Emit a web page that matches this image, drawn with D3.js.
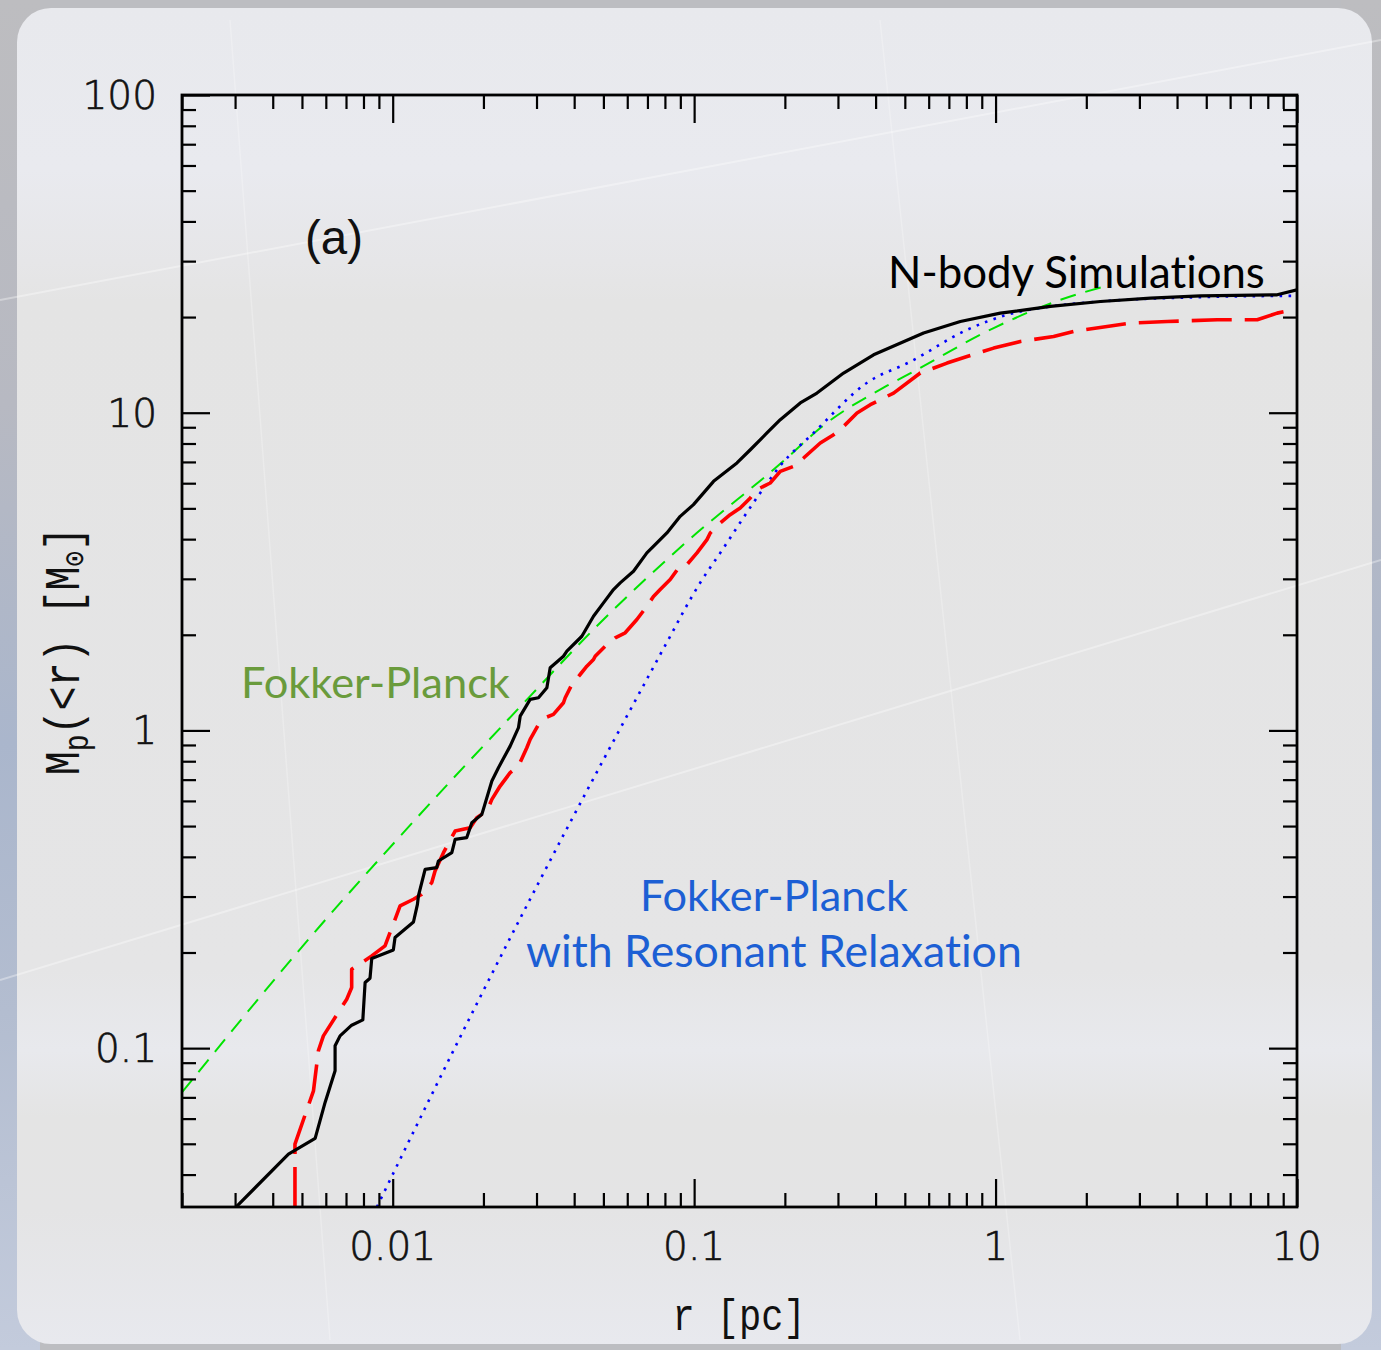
<!DOCTYPE html>
<html><head><meta charset="utf-8">
<script src="https://cdn.jsdelivr.net/npm/d3@7"></script>
<style>html,body{margin:0;padding:0;background:#bcbdc1;} svg{display:block;} text{font-variant-ligatures:none;font-kerning:normal;}</style>
</head><body>
<svg id="chart" width="1381" height="1350"></svg>
<script>
// ---------- data ----------
const nbodyR = [0.00302,0.00451,0.00553,0.00597,0.00644,0.00644,0.00669,0.00731,0.00796,0.00810,0.00841,0.00852,0.01005,0.01018,0.01172,0.01208,0.01217,0.01281,0.01400,0.01418,0.01571,0.01611,0.01761,0.01830,0.01976,0.02133,0.02243,0.02453,0.02614,0.02648,0.02858,0.03045,0.03247,0.03330,0.03686,0.03783,0.04242,0.04636,0.05003,0.05401,0.05685,0.06293,0.06970,0.08121,0.08991,0.0995,0.1160,0.1387,0.1536,0.1744,0.1931,0.2250,0.2556,0.3132,0.3939,0.5771,0.7641,1.037,1.520,2.228,3.265,4.782,8.594,10];
const nbodyM = [0.0316,0.0464,0.0520,0.0676,0.0849,0.1017,0.1093,0.1181,0.1227,0.1609,0.1660,0.1914,0.2038,0.2229,0.2495,0.2836,0.3013,0.3655,0.3700,0.3882,0.4124,0.4542,0.4599,0.5125,0.5442,0.6929,0.7633,0.8925,1.020,1.109,1.252,1.267,1.362,1.575,1.712,1.776,1.979,2.288,2.521,2.776,2.914,3.170,3.621,4.184,4.719,5.136,6.081,6.947,7.646,8.635,9.506,10.73,11.53,13.33,15.22,17.81,19.37,20.58,21.60,22.39,22.95,23.33,23.50,24.37];

const redR = [0.00474,0.00474,0.00546,0.00567,0.00589,0.00704,0.00731,0.00731,0.00852,0.00943,0.01058,0.01172,0.01249,0.01348,0.01382,0.01474,0.01611,0.01807,0.01901,0.02053,0.02133,0.02272,0.02453,0.02614,0.02786,0.02858,0.03045,0.03205,0.03414,0.03686,0.03735,0.03930,0.04187,0.04407,0.04636,0.04696,0.05135,0.05471,0.05906,0.06457,0.06970,0.07330,0.07716,0.08329,0.08878,0.09465,0.1022,0.1103,0.1131,0.1221,0.1317,0.1422,0.1536,0.1616,0.1788,0.1931,0.2138,0.2307,0.2621,0.2902,0.3132,0.3470,0.3841,0.4589,0.5627,0.6902,0.8043,0.9856,1.209,1.558,1.816,2.344,2.802,3.709,5.434,7.379,8.594,10];
const redM = [0.0316,0.0499,0.0734,0.0982,0.1093,0.1426,0.1552,0.1771,0.1951,0.2098,0.2802,0.2942,0.3050,0.3320,0.3610,0.4124,0.4823,0.4943,0.5314,0.5573,0.6067,0.6682,0.7362,0.7722,0.8823,0.9369,1.044,1.096,1.123,1.222,1.267,1.395,1.500,1.593,1.672,1.712,1.864,1.957,2.029,2.234,2.460,2.639,2.776,2.984,3.248,3.327,3.621,3.987,4.184,4.499,4.777,5.015,5.392,5.726,6.009,6.537,6.778,7.202,8.030,8.527,9.056,9.98,10.60,11.53,13.33,14.33,15.03,15.97,16.76,17.38,18.02,18.68,19.15,19.37,19.61,19.61,20.58,21.19];

const fpR = [0.002,0.00574,0.01085,0.02858,0.04636,0.09222,0.2032,0.2621,0.4364,0.5350,0.9856,1.641,2.404];
const fpM = [0.0726,0.2424,0.4768,1.282,2.078,3.846,7.202,8.952,12.16,13.49,18.47,22.66,25.27];

const rrR = [0.00886,0.01950,0.02931,0.08329,0.09705,0.1047,0.1221,0.1657,0.1931,0.2490,0.3747,0.5215,0.8043,1.092,1.520,2.228,4.782,10];
const rrM = [0.0316,0.1447,0.3087,1.979,2.582,2.914,3.621,5.591,6.813,8.635,12.43,14.47,18.24,20.33,21.60,22.39,23.11,23.33];

const xTickValues = [0.01,0.1,1,10];
const xTickLabels = ["0.01","0.1","1","10"];
const yTickValues = [0.1,1,10,100];
const yTickLabels = ["0.1","1","10","100"];

// ---------- layout ----------
const svg = d3.select('#chart');
const L=182, R=1297, T=95, B=1207;
const x = d3.scaleLog().domain([0.002,10]).range([L,R]);
const y = d3.scaleLog().domain([Math.pow(10,-1.5),100]).range([B,T]);

const defs = svg.append('defs');
const side = defs.append('linearGradient').attr('id','side').attr('x1',0).attr('x2',0).attr('y1',0).attr('y2',1);
[[0,'#bdbdc0'],[0.3,'#b7b9c2'],[0.55,'#aab6cc'],[0.75,'#b3bdd0'],[1,'#c3cbdc']].forEach(([o,c])=>side.append('stop').attr('offset',o).attr('stop-color',c));
const pan = defs.append('linearGradient').attr('id','pan').attr('x1',0).attr('x2',0).attr('y1',0).attr('y2',1);
[[0,'#e8e9ed'],[0.12,'#e9eaef'],[0.19,'#e6e6e8'],[0.22,'#e4e4e4'],[0.72,'#e5e5e6'],[0.78,'#e8e9ed'],[0.83,'#e4e4e4'],[0.9,'#e4e4e5'],[1,'#e8e9ee']].forEach(([o,c])=>pan.append('stop').attr('offset',o).attr('stop-color',c));
defs.append('clipPath').attr('id','plotclip').append('rect').attr('x',L).attr('y',T).attr('width',R-L).attr('height',B-T);

svg.append('rect').attr('width',1381).attr('height',1350).attr('fill','#bcbdc1');
svg.append('rect').attr('x',0).attr('y',0).attr('width',40).attr('height',1350).attr('fill','url(#side)');
svg.append('rect').attr('x',1341).attr('y',0).attr('width',40).attr('height',1350).attr('fill','url(#side)');
svg.append('rect').attr('x',17).attr('y',8).attr('width',1355).attr('height',1336).attr('rx',34).attr('fill','url(#pan)');

// faint decorative streaks
const streaks = svg.append('g').attr('stroke','#ffffff').attr('stroke-opacity',0.35).attr('fill','none');
streaks.append('line').attr('x1',0).attr('y1',300).attr('x2',1381).attr('y2',40).attr('stroke-width',2);
streaks.append('line').attr('x1',0).attr('y1',980).attr('x2',1381).attr('y2',560).attr('stroke-width',2);
streaks.append('line').attr('x1',230).attr('y1',20).attr('x2',330).attr('y2',1340).attr('stroke-width',1.5).attr('stroke-opacity',0.25);
streaks.append('line').attr('x1',880).attr('y1',20).attr('x2',1020).attr('y2',1340).attr('stroke-width',1.5).attr('stroke-opacity',0.25);

// ---------- curves ----------
const toPts = (rs,ms)=>d3.zip(rs,ms).map(([r,m])=>({r,m}));
const line = d3.line().x(d=>x(d.r)).y(d=>y(d.m));
const smooth = d3.line().x(d=>x(d.r)).y(d=>y(d.m)).curve(d3.curveMonotoneX);
const plot = svg.append('g').attr('clip-path','url(#plotclip)').attr('fill','none').attr('stroke-linejoin','round');

plot.append('path').attr('d',smooth(toPts(fpR,fpM))).attr('stroke','#00e400').attr('stroke-width',2).attr('stroke-dasharray','16,10');
plot.append('path').attr('d',smooth(toPts(rrR,rrM))).attr('stroke','#0000ff').attr('stroke-width',2.6).attr('stroke-dasharray','2.6,6.4');
plot.append('path').attr('d',line(toPts(redR,redM))).attr('stroke','#ff0000').attr('stroke-width',3.6).attr('stroke-dasharray','40,13');
plot.append('path').attr('d',line(toPts(nbodyR,nbodyM))).attr('stroke','#000000').attr('stroke-width',3.2);

// ---------- axes ----------
function minors(domain){const out=[];for(let e=-4;e<=2;e++){for(let k=2;k<=9;k++){const v=k*Math.pow(10,e);if(v>=domain[0]*0.999&&v<=domain[1]*1.001)out.push(v);}}return out;}
const xMinor = minors(x.domain());
const yMinor = minors(y.domain());
function drawAxis(gen, scale, vals, size, tr){
  const g = svg.append('g').attr('transform',tr).call(gen(scale).tickValues(vals).tickSize(-size).tickFormat(''));
  g.select('.domain').remove();
  g.selectAll('line').attr('stroke','#000').attr('stroke-width',2.2);
}
drawAxis(d3.axisBottom, x, xTickValues, 28, `translate(0,${B})`);
drawAxis(d3.axisBottom, x, xMinor, 14, `translate(0,${B})`);
drawAxis(d3.axisTop, x, xTickValues, 28, `translate(0,${T})`);
drawAxis(d3.axisTop, x, xMinor, 14, `translate(0,${T})`);
drawAxis(d3.axisLeft, y, yTickValues, 28, `translate(${L},0)`);
drawAxis(d3.axisLeft, y, yMinor, 14, `translate(${L},0)`);
drawAxis(d3.axisRight, y, yTickValues, 28, `translate(${R},0)`);
drawAxis(d3.axisRight, y, yMinor, 14, `translate(${R},0)`);
svg.append('rect').attr('x',L).attr('y',T).attr('width',R-L).attr('height',B-T).attr('fill','none').attr('stroke','#000').attr('stroke-width',2.8);

const numFont = '"DejaVu Sans", sans-serif';
const monoFont = '"Liberation Mono", monospace';
svg.append('g').selectAll('text').data(xTickValues).join('text')
  .attr('x',d=>x(d)).attr('y',1260)
  .attr('text-anchor','middle').attr('font-family',numFont).attr('font-weight',200).attr('font-size',39)
  .attr('fill','#111').attr('stroke','#111').attr('stroke-width',0.7)
  .text((d,i)=>xTickLabels[i]);
svg.append('g').selectAll('text').data(yTickValues).join('text')
  .attr('x',157).attr('y',d=>y(d)+14)
  .attr('text-anchor','end').attr('font-family',numFont).attr('font-weight',200).attr('font-size',39)
  .attr('fill','#111').attr('stroke','#111').attr('stroke-width',0.7)
  .text((d,i)=>yTickLabels[i]);

// axis titles
svg.append('text').attr('transform','translate(739,1330) scale(1,1.2)').attr('text-anchor','middle')
  .attr('font-family',monoFont).attr('font-size',37).attr('fill','#111').text('r [pc]');
const yl = svg.append('text').attr('transform','translate(79,651) rotate(-90) scale(1,1.25)').attr('text-anchor','middle')
  .attr('font-family',monoFont).attr('font-size',40).attr('fill','#111');
yl.append('tspan').text('M');
yl.append('tspan').attr('font-size',28).attr('dy',7).text('p');
yl.append('tspan').attr('dy',-7).text('(<r) [M');
yl.append('tspan').attr('font-size',26).attr('dy',5).text('⊙');
yl.append('tspan').attr('dy',-5).text(']');

// annotations
function fit(sel,w){const c=sel.node().getComputedTextLength();const fs=parseFloat(sel.attr('font-size'));sel.attr('font-size',fs*w/c);return sel;}
const human = 'Lato, "Open Sans", "Noto Sans", sans-serif';
fit(svg.append('text').attr('x',305).attr('y',254).attr('font-family','"Liberation Sans", Arial, sans-serif').attr('font-size',44).attr('fill','#111').text('(a)'),58);
fit(svg.append('text').attr('x',888).attr('y',288).attr('font-family',human).attr('font-size',44).attr('fill','#000').text('N-body Simulations'),377);
fit(svg.append('text').attr('x',241).attr('y',698).attr('font-family',human).attr('font-size',44).attr('fill','#6a9b3c').text('Fokker-Planck'),269);
fit(svg.append('text').attr('x',640).attr('y',911).attr('font-family',human).attr('font-size',44).attr('fill','#1c5fd4').text('Fokker-Planck'),268);
fit(svg.append('text').attr('x',526).attr('y',967).attr('font-family',human).attr('font-size',44).attr('fill','#1c5fd4').text('with Resonant Relaxation'),496);
</script>
</body></html>
